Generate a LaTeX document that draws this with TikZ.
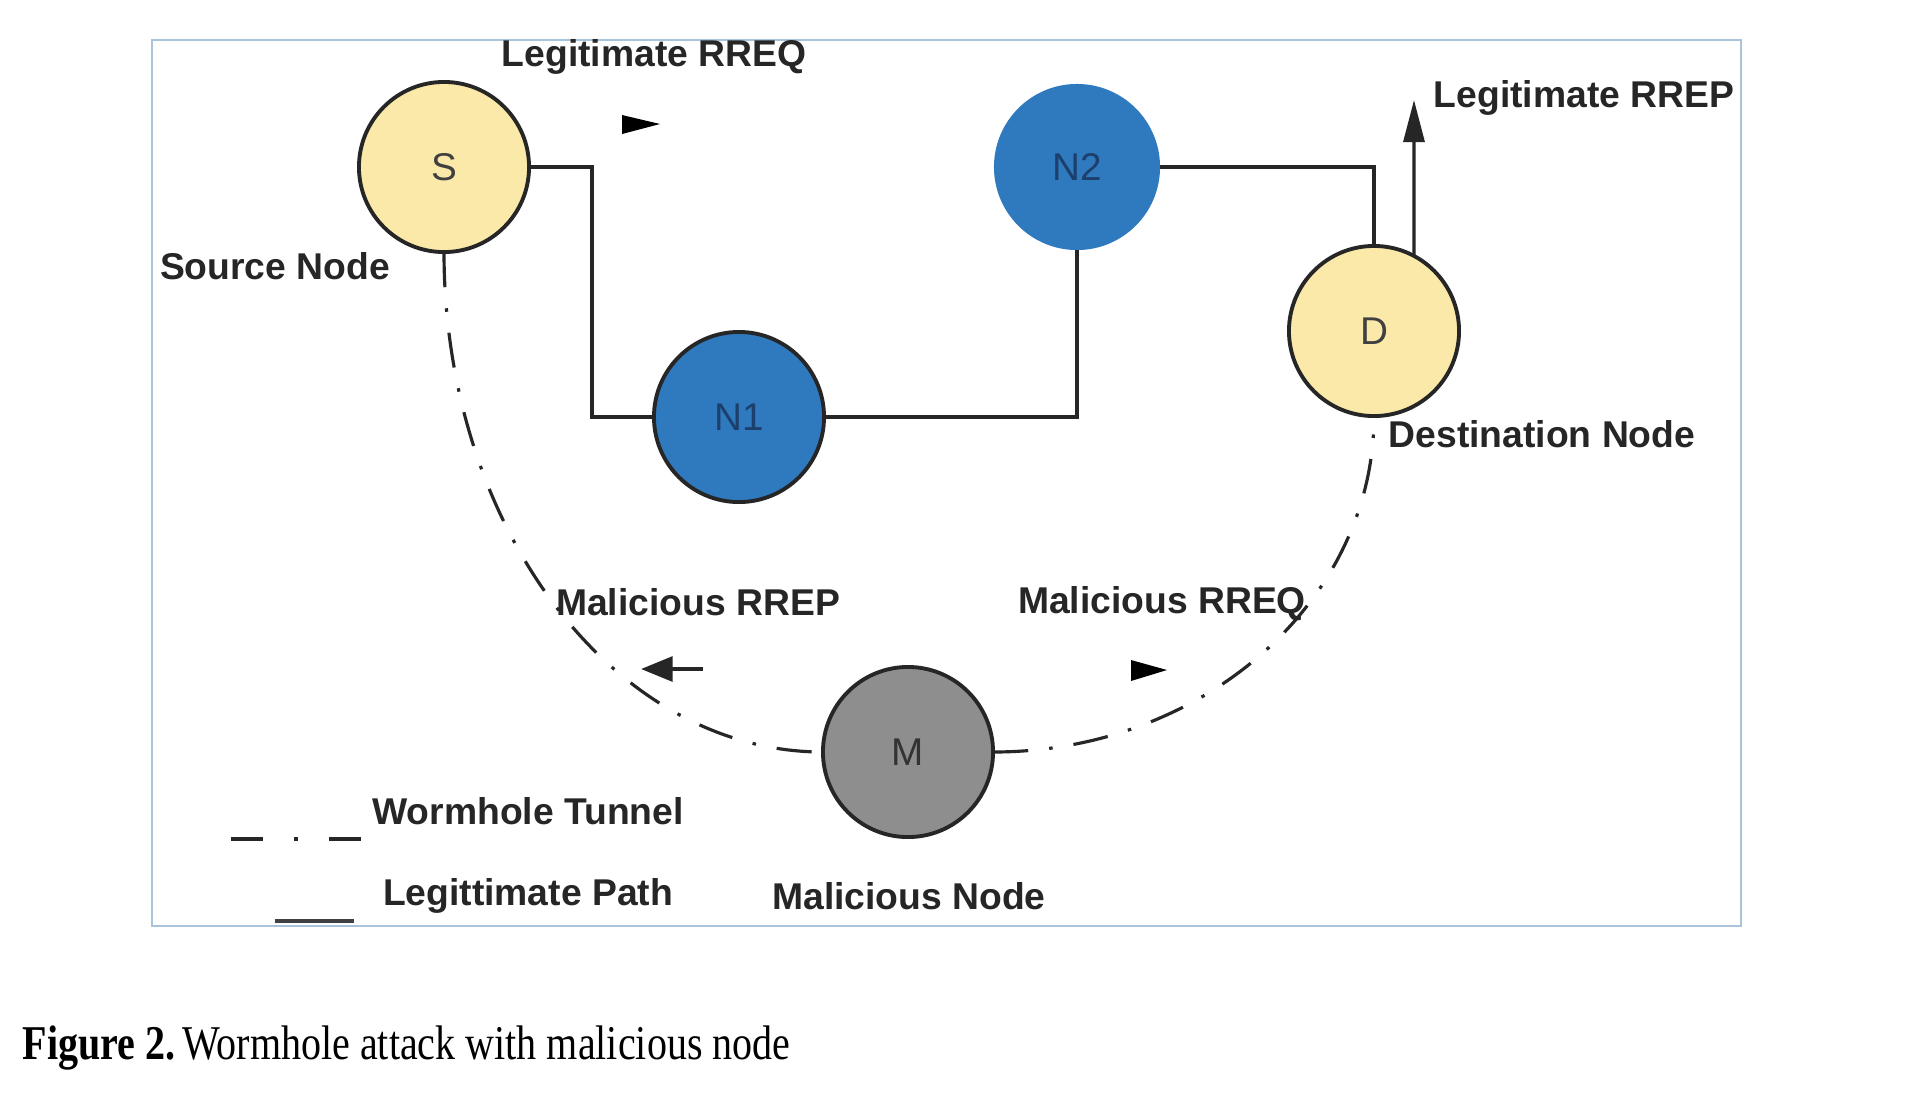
\documentclass[tikz,border=0pt]{standalone}
\usepackage{fontspec}
\usepackage{graphicx}
\setmainfont{Liberation Serif}
\newfontfamily\lblfont{Liberation Sans}
\usetikzlibrary{arrows.meta,calc}
\definecolor{nodeyellow}{HTML}{FBE9A9}
\definecolor{nodeblue}{HTML}{2F79BF}
\definecolor{nodegray}{HTML}{8E8E8E}
\definecolor{framecol}{HTML}{A9C3DA}
\definecolor{bluetext}{HTML}{1D3F6C}
\tikzset{
  netnode/.style={circle,minimum size=1.7cm,inner sep=0pt,outer sep=0pt,line width=1.1pt,font=\lblfont\fontsize{11}{13}\selectfont},
  srcnode/.style={netnode,draw=black!85,fill=nodeyellow,text=black!75},
  midnode/.style={netnode,fill=nodeblue,text=bluetext},
  malnode/.style={netnode,draw=black!85,fill=nodegray,text=black!80},
  lbl/.style={font=\lblfont\bfseries\fontsize{10.6}{12}\selectfont,text=black!85,inner sep=0pt},
  legit/.style={line width=0.9pt,draw=black!85},
  worm/.style={line width=0.9pt,draw=black!85,dash pattern=on 10pt off 6pt on 1pt off 6pt},
  headtri/.style={fill=black}
}
\begin{document}
\begin{tikzpicture}[x=0.01cm,y=-0.01cm]
\useasboundingbox (0,0) rectangle (1906,1096);
\fill[white] (0,0) rectangle (1906,1096);
\draw[framecol,line width=0.8pt] (152,40) rectangle (1741,926);

% nodes
\node[srcnode] (S) at (444,167) {S};
\node[midnode,draw=black!85] (N1) at (739,417) {N1};
\node[midnode,minimum size=1.66cm] (N2) at (1077,167) {N2};
\node[srcnode] (D) at (1374,331) {D};
\node[malnode] (M) at (908,752) {M};

% legitimate path
\draw[legit] (S.east) -- ++(63,0) |- (N1.west);
\draw[legit] (N1.east) -| (N2.south);
\draw[legit] (N2.east) -| (D.north);

% legitimate RREP arrow
\coordinate (rrepend) at (1414,100);
\draw[legit,-{Triangle[length=12pt,width=6pt]}] (D.62) -- (rrepend);

% wormhole tunnel
\draw[worm] (S.south) .. controls +(0,276) and +(-209,0) .. (M.west);
\draw[worm] (M.east) .. controls +(210,0) and +(0,185) .. (D.south);

% free arrowheads
\fill[headtri] (622,115) -- (622,134) -- (660,124) -- cycle;
\fill[headtri] (1131,660) -- (1131,681) -- (1167,670) -- cycle;
\coordinate (rrepA) at (703,669);
\coordinate (rrepB) at (641,669);
\draw[legit,line width=1.2pt,-{Triangle[length=9pt,width=7pt]}] (rrepA) -- (rrepB);

% labels
\node[lbl] (tRREQ) at (654,57) {Legitimate RREQ};
\node[lbl] (tSrc) at (275,266) {Source Node};
\node[lbl] (tRREP) at (1584,98) {Legitimate RREP};
\node[lbl] (tDst) at (1542,434) {Destination Node};
\node[lbl] (tMRREP) at (698,602) {Malicious RREP};
\node[lbl] (tMRREQ) at (1162,604) {Malicious RREQ};
\node[lbl] (tWorm) at (528,811) {Wormhole Tunnel};
\node[lbl] (tLeg) at (528,896) {Legittimate Path};
\node[lbl] (tMal) at (909,896) {Malicious Node};

% legend
\coordinate (lw1) at (231,839);
\coordinate (lw2) at (361,839);
\draw[line width=0.9pt,draw=black!85,dash pattern=on 9pt off 9pt on 1pt off 9pt] (lw1) -- (lw2);
\coordinate (ll1) at (275,921);
\coordinate (ll2) at (354,921);
\draw[line width=1.3pt,draw=black!75] (ll1) -- (ll2);

% caption
\node[anchor=west,inner sep=0pt] (cap) at (22,1048) {\scalebox{0.825}[1]{\fontsize{13.8}{16}\selectfont\textbf{Figure 2.}\,Wormhole attack with malicious node}};
\end{tikzpicture}
\end{document}
